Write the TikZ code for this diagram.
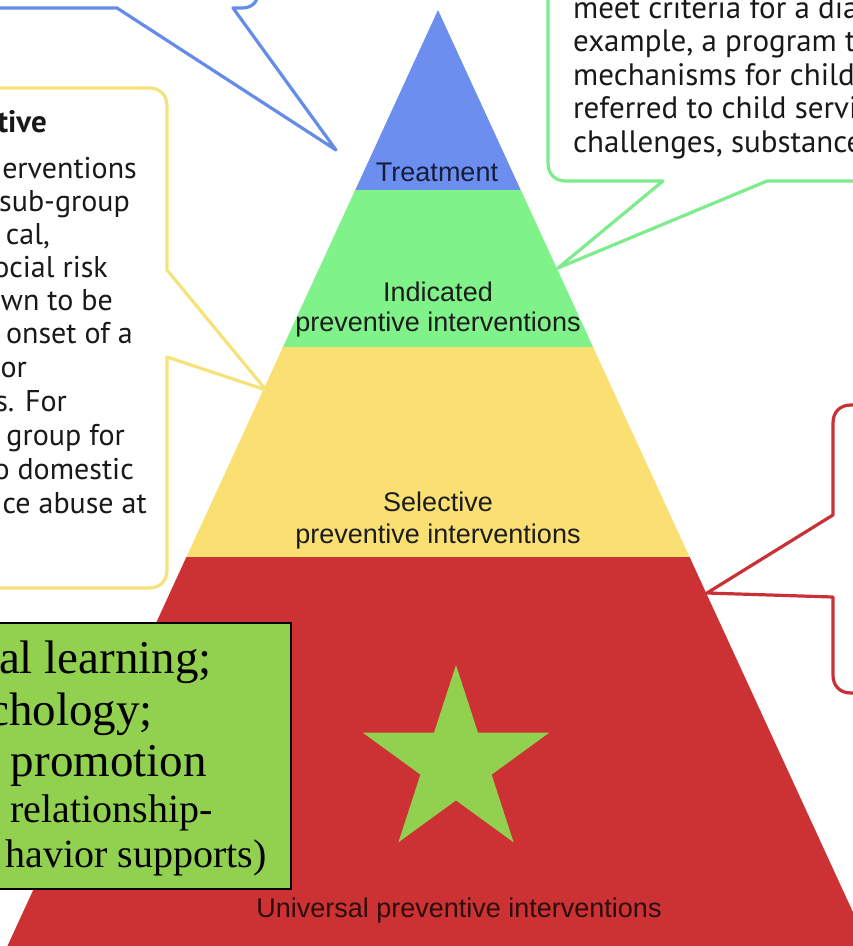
\documentclass[tikz,border=0pt]{standalone}
\usepackage{fontspec}
\setmainfont{Liberation Serif}
\newfontfamily\calfont{PT Sans}
\newfontfamily\pyrfont{Liberation Sans}
\definecolor{pyrBlue}{RGB}{108,142,238}
\definecolor{pyrGreen}{RGB}{128,242,138}
\definecolor{pyrYellow}{RGB}{250,223,115}
\definecolor{pyrRed}{RGB}{204,50,52}
\definecolor{lnBlue}{RGB}{102,140,234}
\definecolor{lnGreen}{RGB}{124,236,140}
\definecolor{lnYellow}{RGB}{246,226,122}
\definecolor{lnRed}{RGB}{200,50,55}
\definecolor{boxGreen}{RGB}{146,208,80}
\definecolor{txtDark}{RGB}{28,28,28}
\definecolor{txtNavy}{RGB}{22,28,62}
\definecolor{txtMaroon}{RGB}{45,12,12}
\begin{document}
\begin{tikzpicture}[x=1pt,y=-1pt,
  pyrlabel/.style={inner sep=0pt, font=\pyrfont\fontsize{27}{30}\selectfont, text=txtDark},
  callout/.style={line width=3.2pt, line join=round, line cap=round},
  caltext/.style={inner sep=0pt, font=\calfont\fontsize{30}{34}\selectfont, text=black!90, anchor=base east},
  caltextw/.style={inner sep=0pt, font=\calfont\fontsize{31}{34}\selectfont, text=black!90, anchor=base west},
  boxbig/.style={inner sep=0pt, font=\fontsize{47}{50}\selectfont, text=black, anchor=base east},
  boxsmall/.style={inner sep=0pt, font=\fontsize{40}{44}\selectfont, text=black, anchor=base east}]
\useasboundingbox (0,0) rectangle (853,946);
\clip (0,0) rectangle (853,946);
\fill[white] (0,0) rectangle (853,946);
% pyramid bands
\fill[pyrBlue] (438,10) -- (521.2,191) -- (354.8,191) -- cycle;
\fill[pyrGreen] (355.2,190) -- (520.8,190) -- (593.5,348) -- (282.5,348) -- cycle;
\fill[pyrYellow] (283,347) -- (593,347) -- (690,558) -- (186,558) -- cycle;
\fill[pyrRed] (186.4,557) -- (689.6,557) -- (875,960) -- (1,960) -- cycle;
% pyramid labels
\node[pyrlabel, anchor=base, text=txtNavy] (treat) at (437,181) {Treatment};
\node[pyrlabel, anchor=base] (ind1) at (438,301) {Indicated};
\node[pyrlabel, anchor=base] (ind2) at (438,331) {preventive interventions};
\node[pyrlabel, anchor=base] (sel1) at (438,511) {Selective};
\node[pyrlabel, anchor=base] (sel2) at (438,543) {preventive interventions};
\node[pyrlabel, anchor=base, text=txtMaroon] (uni) at (459,917) {Universal preventive interventions};
% blue callout
\draw[callout, lnBlue] (-10,8) -- (117,8) -- (336,150) -- (233,8) -- (242,8)
  .. controls (252,8) and (258,2) .. (258,-8) -- (258,-20);
% yellow callout
\draw[callout, lnYellow] (-10,88) -- (149,88) .. controls (160,88) and (167,95) .. (167,106)
  -- (167,270) -- (266,390) -- (167,357) -- (167,570)
  .. controls (167,581) and (160,588) .. (149,588) -- (-10,588);
% green callout
\draw[callout, lnGreen] (548,-20) -- (548,163) .. controls (548,174) and (555,181) .. (566,181)
  -- (663,181) -- (558,268) -- (767,181) -- (870,181);
% red callout
\draw[callout, lnRed] (870,405) -- (851,405) .. controls (840,405) and (833,412) .. (833,423)
  -- (833,515) -- (707,593) -- (833,597) -- (833,675)
  .. controls (833,686) and (840,693) .. (851,693) -- (870,693);
% yellow callout text (clipped at left)
\node[inner sep=0pt, font=\calfont\bfseries\fontsize{31}{34}\selectfont, text=black!90, anchor=base east] (ytitle) at (47,132) {tive};
\node[caltext] (y1) at (137,178) {erventions};
\node[caltext] (y2) at (130,211) {sub-group};
\node[caltext] (y3) at (50,244) {cal,};
\node[caltext] (y4) at (108,277) {ocial risk};
\node[caltext] (y5) at (113,310) {wn to be};
\node[caltext] (y6) at (133,343) {onset of a};
\node[caltext] (y7) at (27,377) {or};
\node[caltext] (y8) at (67,411) {s. For};
\node[caltext] (y9) at (125,445) {group for};
\node[caltext] (y10) at (134,479) {o domestic};
\node[caltext] (y11) at (147,513) {ce abuse at};
% green callout text (clipped at right)
\node[caltextw] (g1) at (573,18) {meet criteria for a dia};
\node[caltextw] (g2) at (573,51.5) {example, a program t};
\node[caltextw] (g3) at (573,85) {mechanisms for child};
\node[caltextw] (g4) at (573,118.5) {referred to child servi};
\node[caltextw] (g5) at (573,152) {challenges, substance};
% green text box
\node[draw=black, line width=1.5pt, fill=boxGreen, minimum width=300pt, minimum height=266pt,
  anchor=north west, inner sep=0pt] (gbox) at (-10,622) {};
\node[boxbig] (b1) at (212,673) {al learning;};
\node[boxbig] (b2) at (153,725) {chology;};
\node[boxbig] (b3) at (207,776) {promotion};
\node[boxsmall] (b4) at (213,822) {relationship-};
\node[boxsmall] (b5) at (267,867) {havior supports)};
% star
\fill[boxGreen] (456,665) -- (478,732.7) -- (549.2,732.7) -- (491.6,774.6) -- (513.6,842.3)
  -- (456,800.4) -- (398.4,842.3) -- (420.4,774.6) -- (362.8,732.7) -- (434,732.7) -- cycle;
\end{tikzpicture}
\end{document}
